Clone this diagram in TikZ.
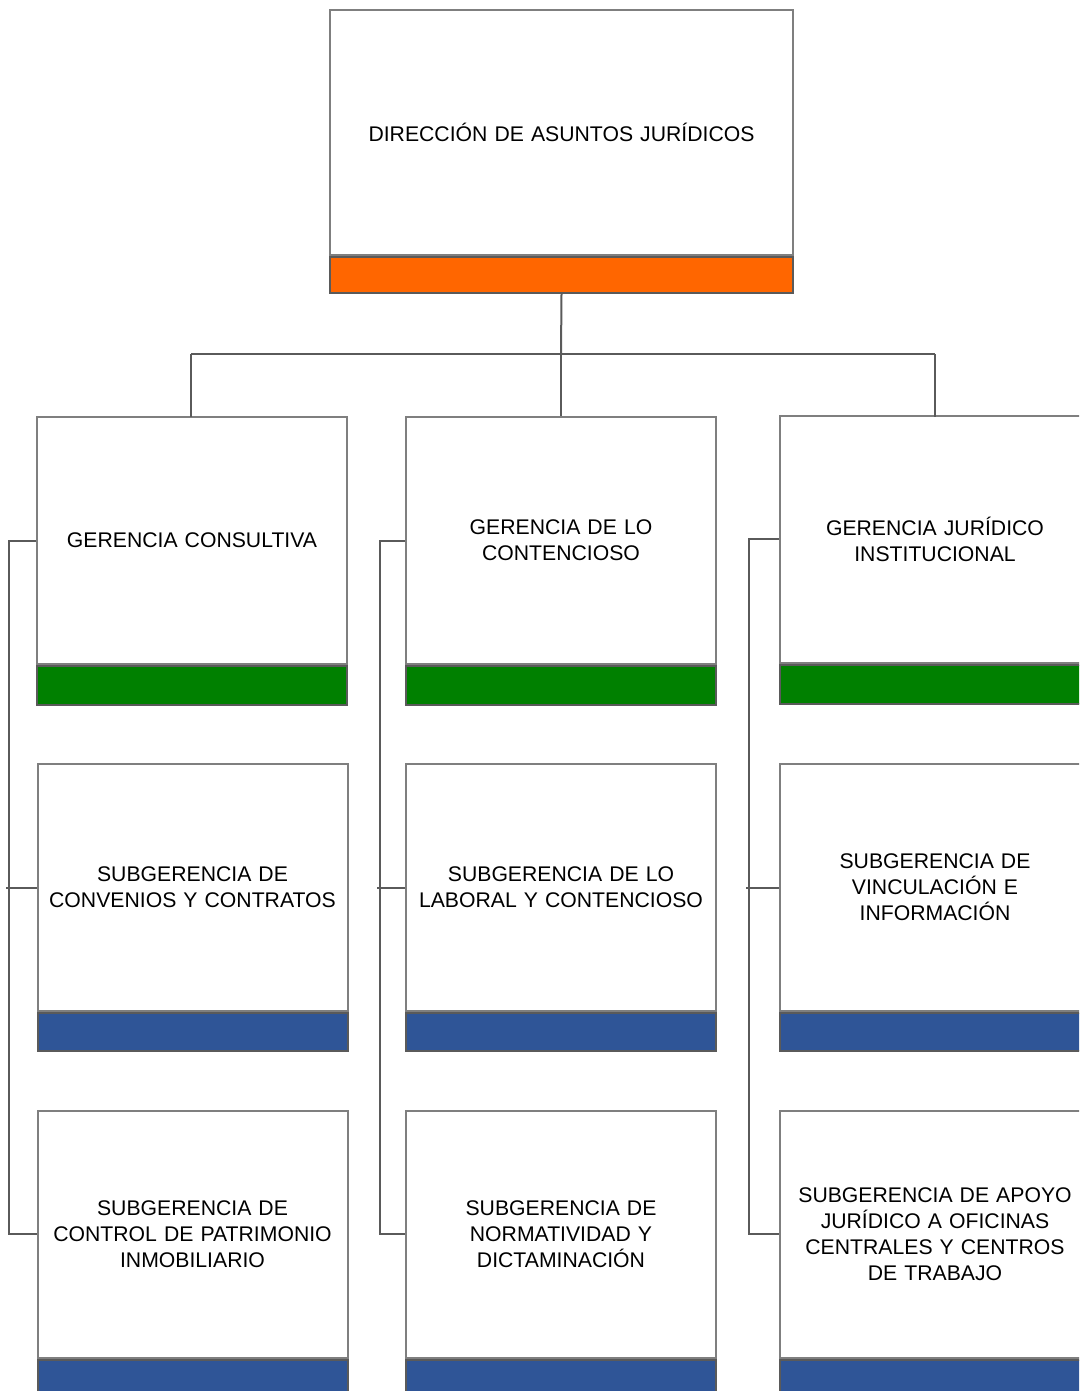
\documentclass[tikz,border=0pt]{standalone}
\usepackage{fontspec}
\setmainfont{Liberation Sans}
\definecolor{lineg}{HTML}{5A5A5A}
\definecolor{boxg}{HTML}{7F7F7F}
\definecolor{orng}{HTML}{FF6600}
\definecolor{grn}{HTML}{008000}
\definecolor{blu}{HTML}{2F5597}
\begin{document}
\begin{tikzpicture}[x=1pt,y=-1pt,
  wbox/.style={draw=boxg,line width=2pt,fill=white,minimum width=310pt,minimum height=247pt,
    inner sep=2pt,align=center,text width=304pt,font=\fontsize{21.2}{26}\selectfont},
  topbox/.style={wbox,minimum width=463pt,minimum height=245pt,text width=450pt},
  bar/.style={draw=lineg,line width=2pt,minimum width=310pt,minimum height=38pt,inner sep=0pt,anchor=north},
  conn/.style={draw=lineg,line width=2pt}]
\useasboundingbox (0,0) rectangle (1079,1391);
\clip (0,0) rectangle (1079,1391);
% top
\node[topbox] (d) at (561.5,132.5) {DIRECCIÓN DE ASUNTOS JURÍDICOS};
\node[bar,fill=orng,minimum width=463pt,minimum height=36pt] (db) at (d.south) {};
% row 1
\node[wbox] (g1) at (192,540.5) {GERENCIA CONSULTIVA};
\node[bar,fill=grn,minimum height=39pt] (g1b) at (g1.south) {};
\node[wbox] (g2) at (561,540.5) {GERENCIA DE LO\\CONTENCIOSO};
\node[bar,fill=grn,minimum height=39pt] (g2b) at (g2.south) {};
\node[wbox] (g3) at (935,539) {GERENCIA JURÍDICO\\INSTITUCIONAL};
\node[bar,fill=grn,minimum height=39pt] (g3b) at (g3.south) {};
% row 2
\node[wbox] (s12) at (192.5,887.5) {SUBGERENCIA DE\\CONVENIOS Y CONTRATOS};
\node[bar,fill=blu] (s12b) at (s12.south) {};
\node[wbox] (s22) at (561,887.5) {SUBGERENCIA DE LO\\LABORAL Y CONTENCIOSO};
\node[bar,fill=blu] (s22b) at (s22.south) {};
\node[wbox] (s32) at (935,887.5) {SUBGERENCIA DE\\VINCULACIÓN E\\INFORMACIÓN};
\node[bar,fill=blu] (s32b) at (s32.south) {};
% row 3
\node[wbox] (s13) at (192.5,1234) {SUBGERENCIA DE\\CONTROL DE PATRIMONIO\\INMOBILIARIO};
\node[bar,fill=blu,minimum height=40pt] (s13b) at (s13.south) {};
\node[wbox] (s23) at (561,1234) {SUBGERENCIA DE\\NORMATIVIDAD Y\\DICTAMINACIÓN};
\node[bar,fill=blu,minimum height=40pt] (s23b) at (s23.south) {};
\node[wbox] (s33) at (935,1234) {SUBGERENCIA DE APOYO\\JURÍDICO A OFICINAS\\CENTRALES Y CENTROS\\DE TRABAJO};
\node[bar,fill=blu,minimum height=40pt] (s33b) at (s33.south) {};
% top connectors
\coordinate (hub) at (561,354);
\draw[conn] (db.south) -- (hub);
\draw[conn] (191,354) -- (935,354);
\draw[conn] (191,354) -- (191,417);
\draw[conn] (hub) -- (g2.north);
\draw[conn] (935,354) -- (935,417);
% side spines
\draw[conn] (g1.west) -- ++(-27,0) |- (s13.west);
\draw[conn] (s12.west) -- ++(-31,0);
\draw[conn] (g2.west) -- ++(-25,0) |- (s23.west);
\draw[conn] (s22.west) -- ++(-28,0);
\draw[conn] (g3.west) -- ++(-30,0) |- (s33.west);
\draw[conn] (s32.west) -- ++(-33,0);
\end{tikzpicture}
\end{document}
